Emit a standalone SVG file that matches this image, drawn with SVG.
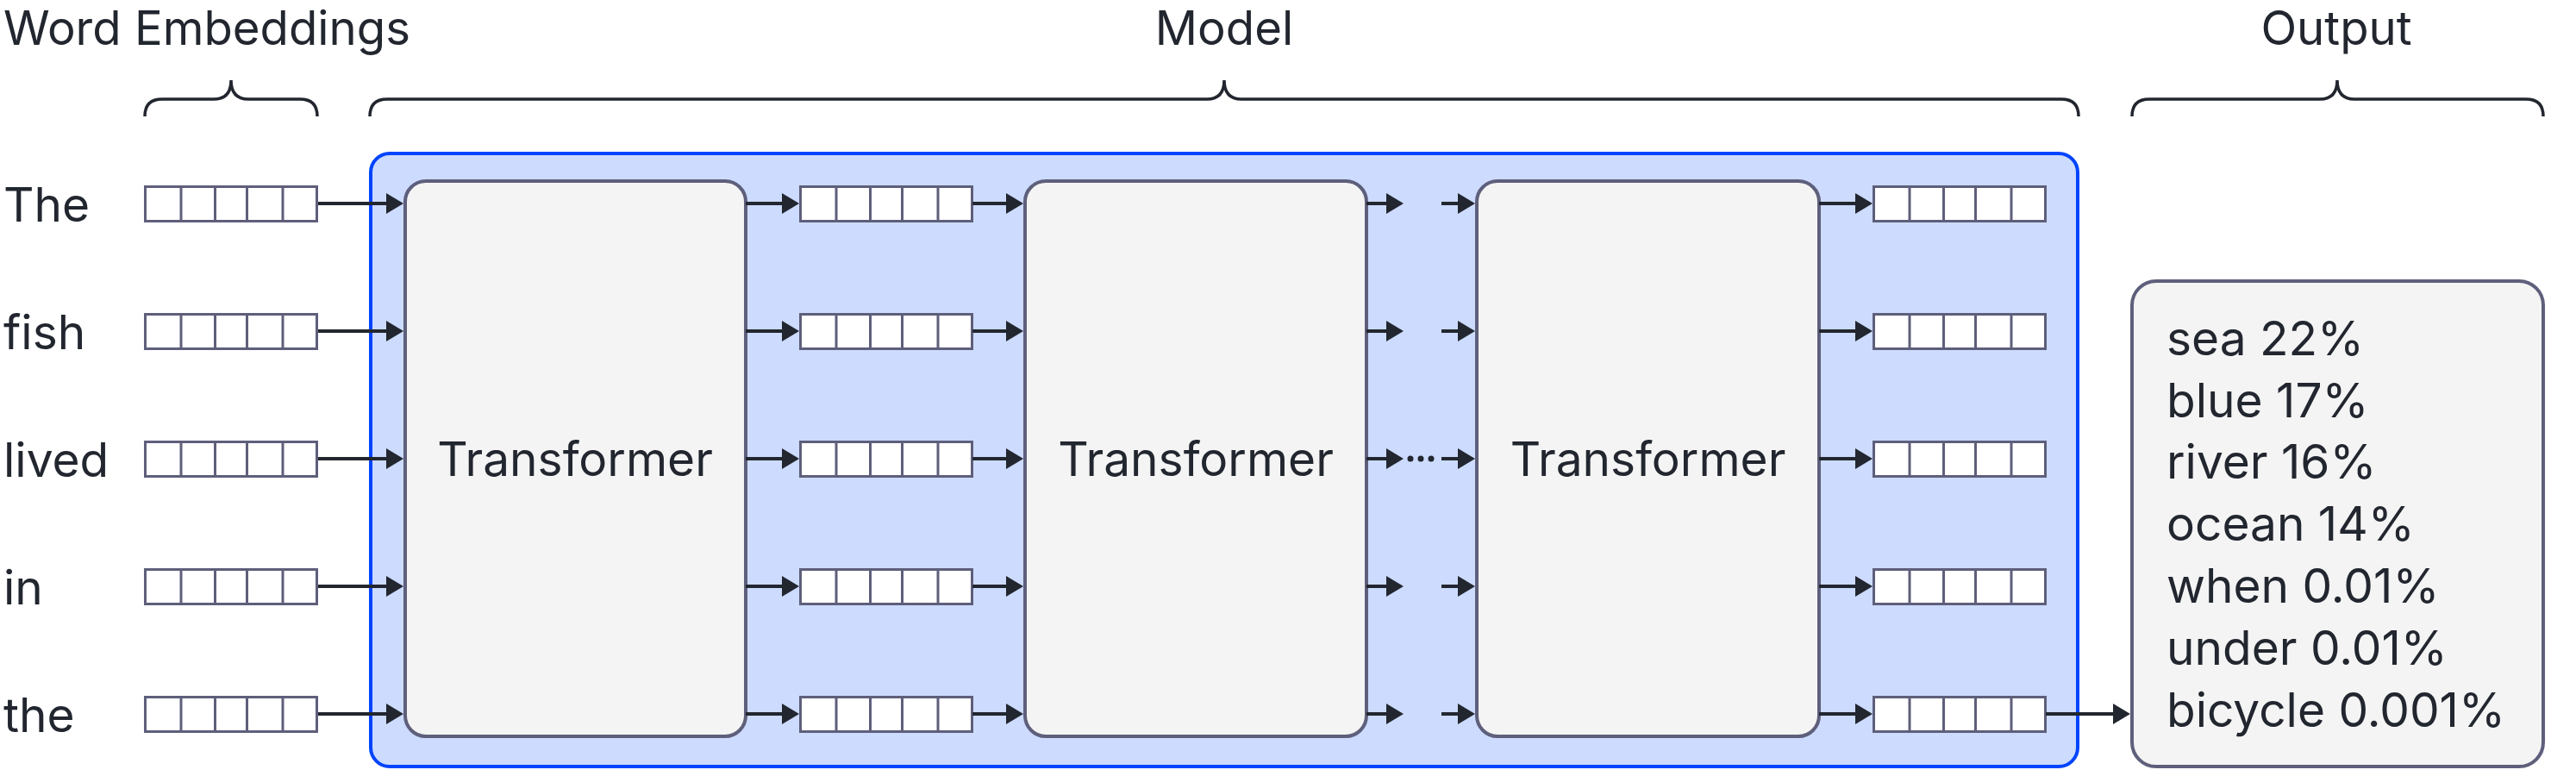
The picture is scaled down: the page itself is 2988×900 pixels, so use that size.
<svg xmlns="http://www.w3.org/2000/svg" width="2988" height="900" viewBox="0 0 2988 900">
<style>
text{font-family:Inter,"Noto Sans","Liberation Sans",sans-serif;fill:#22262f;font-size:55px}
.head{font-size:54.5px}
.mid{text-anchor:middle}
.brace{fill:none;stroke:#22262f;stroke-width:3.5}
.tf{fill:#f4f4f4;stroke:#5e5f7b;stroke-width:4}
.cell{fill:#ffffff;stroke:#5e5f7b;stroke-width:3}
.arr{stroke:#22262f;stroke-width:4;fill:none;marker-end:url(#ah)}
</style>
<defs>
<marker id="ah" markerUnits="userSpaceOnUse" markerWidth="22" markerHeight="24" refX="10" refY="12" orient="auto">
<path d="M0,0 L20,12 L0,24 Z" fill="#22262f"/>
</marker>
<g id="emb">
<rect class="cell" x="1.5" y="1.5" width="199" height="40"/>
<line class="cell" x1="43" y1="1.5" x2="43" y2="41.5"/>
<line class="cell" x1="82.5" y1="1.5" x2="82.5" y2="41.5"/>
<line class="cell" x1="119.5" y1="1.5" x2="119.5" y2="41.5"/>
<line class="cell" x1="161" y1="1.5" x2="161" y2="41.5"/>
</g>
</defs>
<rect width="2988" height="900" fill="#ffffff"/>

<g id="headings">
<text class="head" x="4" y="52">Word Embeddings</text>
<text class="head mid" x="1420" y="52">Model</text>
<text class="head mid" x="2710" y="52">Output</text>
<path class="brace" d="M168,135 Q168,115 188,115 L248,115 Q268,115 268,93 Q268,115 288,115 L348,115 Q368,115 368,135"/>
<path class="brace" d="M429,135 Q429,115 449,115 L1400,115 Q1420,115 1420,93 Q1420,115 1440,115 L2391,115 Q2411,115 2411,135"/>
<path class="brace" d="M2473,135 Q2473,115 2493,115 L2691,115 Q2711,115 2711,93 Q2711,115 2731,115 L2930,115 Q2950,115 2950,135"/>
</g>

<g id="model">
<rect x="430" y="178" width="1980" height="711" rx="22" fill="#ccdbfe" stroke="#0044ff" stroke-width="4"/>
</g>

<g id="words">
<text x="4" y="257">The</text>
<text x="4" y="405">fish</text>
<text x="4" y="553">lived</text>
<text x="4" y="701">in</text>
<text x="4" y="849">the</text>
</g>

<g id="input-embeddings">
<use href="#emb" x="167" y="215"/>
<use href="#emb" x="167" y="363"/>
<use href="#emb" x="167" y="511"/>
<use href="#emb" x="167" y="659"/>
<use href="#emb" x="167" y="807"/>
</g>

<g id="transformer1">
<rect class="tf" x="470" y="210" width="395" height="644" rx="24"/>
<text class="mid" x="667" y="552">Transformer</text>
</g>

<g id="mid-embeddings">
<use href="#emb" x="927" y="215"/>
<use href="#emb" x="927" y="363"/>
<use href="#emb" x="927" y="511"/>
<use href="#emb" x="927" y="659"/>
<use href="#emb" x="927" y="807"/>
</g>

<g id="transformer2">
<rect class="tf" x="1189" y="210" width="396" height="644" rx="24"/>
<text class="mid" x="1387" y="552">Transformer</text>
</g>

<g id="transformer3">
<rect class="tf" x="1713" y="210" width="397" height="644" rx="24"/>
<text class="mid" x="1911.5" y="552">Transformer</text>
</g>

<g id="output-embeddings">
<use href="#emb" x="2172" y="215"/>
<use href="#emb" x="2172" y="363"/>
<use href="#emb" x="2172" y="511"/>
<use href="#emb" x="2172" y="659"/>
<use href="#emb" x="2172" y="807"/>
</g>

<g id="output">
<rect class="tf" x="2473" y="326" width="477" height="563" rx="28"/>
<text x="2513" y="412">sea 22%</text>
<text x="2513" y="484">blue 17%</text>
<text x="2513" y="555">river 16%</text>
<text x="2513" y="627">ocean 14%</text>
<text x="2513" y="699">when 0.01%</text>
<text x="2513" y="771">under 0.01%</text>
<text x="2513" y="843">bicycle 0.001%</text>
</g>

<g id="connectors">
<path class="arr" d="M369,236 H458"/>
<path class="arr" d="M369,384 H458"/>
<path class="arr" d="M369,532 H458"/>
<path class="arr" d="M369,680 H458"/>
<path class="arr" d="M369,828 H458"/>

<path class="arr" d="M865,236 H917"/>
<path class="arr" d="M865,384 H917"/>
<path class="arr" d="M865,532 H917"/>
<path class="arr" d="M865,680 H917"/>
<path class="arr" d="M865,828 H917"/>

<path class="arr" d="M1128,236 H1177"/>
<path class="arr" d="M1128,384 H1177"/>
<path class="arr" d="M1128,532 H1177"/>
<path class="arr" d="M1128,680 H1177"/>
<path class="arr" d="M1128,828 H1177"/>

<path class="arr" d="M1585,236 H1618"/>
<path class="arr" d="M1585,384 H1618"/>
<path class="arr" d="M1585,532 H1618"/>
<path class="arr" d="M1585,680 H1618"/>
<path class="arr" d="M1585,828 H1618"/>

<path class="arr" d="M1672,236 H1701"/>
<path class="arr" d="M1672,384 H1701"/>
<path class="arr" d="M1672,532 H1701"/>
<path class="arr" d="M1672,680 H1701"/>
<path class="arr" d="M1672,828 H1701"/>

<g fill="#22262f">
<circle cx="1636" cy="532" r="3.5"/>
<circle cx="1648" cy="532" r="3.5"/>
<circle cx="1660" cy="532" r="3.5"/>
</g>

<path class="arr" d="M2110,236 H2162"/>
<path class="arr" d="M2110,384 H2162"/>
<path class="arr" d="M2110,532 H2162"/>
<path class="arr" d="M2110,680 H2162"/>
<path class="arr" d="M2110,828 H2162"/>

<path class="arr" d="M2373,828 H2461"/>
</g>
</svg>
